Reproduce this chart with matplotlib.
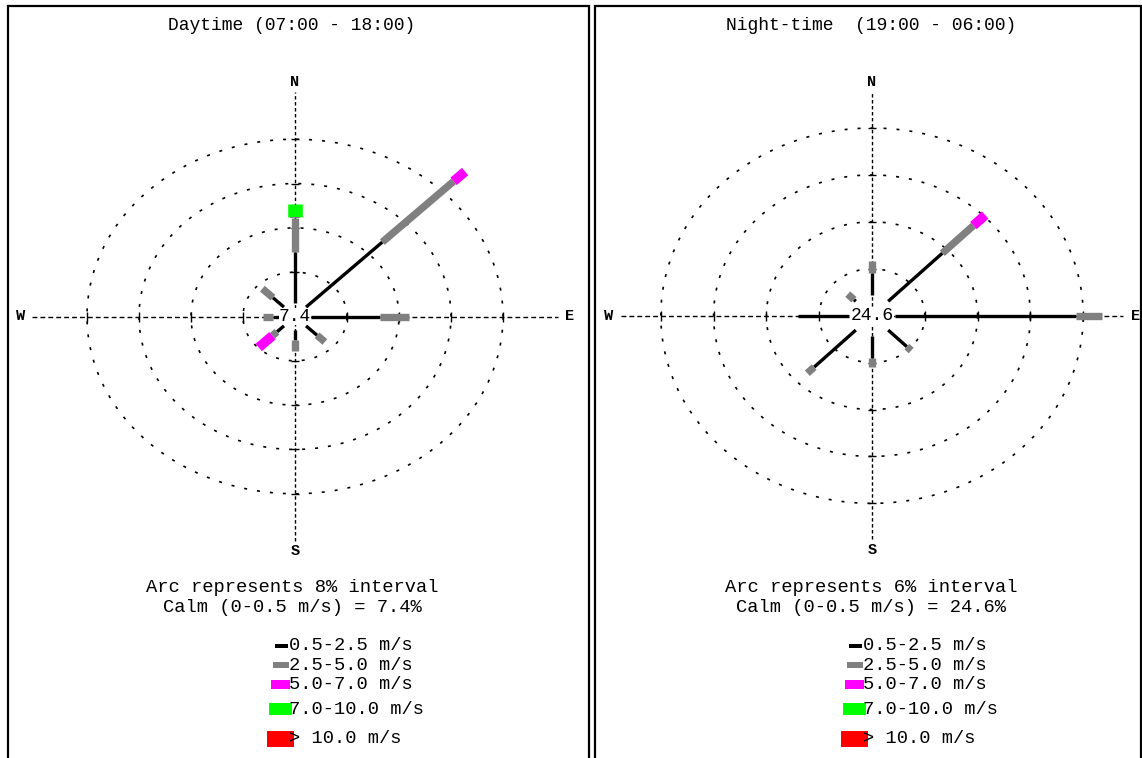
import numpy as np
import matplotlib.pyplot as plt
from matplotlib.patches import Rectangle

plt.rcParams['font.family'] = ['Liberation Mono', 'DejaVu Sans Mono']

W, H = 1142, 758

# data
directions = ['N', 'NE', 'E', 'SE', 'S', 'SW', 'W', 'NW']
compass_deg = [0, 45, 90, 135, 180, 225, 270, 315]
speed_labels = ['0.5-2.5 m/s', '2.5-5.0 m/s', '5.0-7.0 m/s', '7.0-10.0 m/s', '> 10.0 m/s']
speed_colors = ['#000000', '#808080', '#ff00ff', '#00ff00', '#ff0000']

day_title = 'Daytime (07:00 - 18:00)'
day_interval = 8
day_calm = 7.4
# frequency (%) per speed class, by direction N..NW
day_s1 = [9.3, 16.6, 10.6, 2.4, 1.8, 1.5, 1.0, 2.4]
day_s2 = [6.0, 15.5, 4.5, 1.7, 2.1, 1.0, 1.6, 2.3]
day_s3 = [0.3, 2.5, 0.0, 0.0, 0.0, 3.0, 0.0, 0.0]
day_s4 = [2.3, 0.0, 0.0, 0.0, 0.0, 0.0, 0.0, 0.0]
day_s5 = [0.0, 0.0, 0.0, 0.0, 0.0, 0.0, 0.0, 0.0]

night_title = 'Night-time  (19:00 - 06:00)'
night_interval = 6
night_calm = 24.6
night_s1 = [2.9, 8.7, 20.6, 3.0, 2.8, 6.7, 5.8, 0.3]
night_s2 = [1.5, 5.0, 2.9, 0.7, 1.2, 1.1, 0.0, 1.0]
night_s3 = [0.0, 1.9, 0.0, 0.0, 0.0, 0.0, 0.0, 0.0]
night_s4 = [0.0, 0.0, 0.0, 0.0, 0.0, 0.0, 0.0, 0.0]
night_s5 = [0.0, 0.0, 0.0, 0.0, 0.0, 0.0, 0.0, 0.0]

panels = [
    dict(title=day_title, interval=day_interval, calm=day_calm,
         freqs=[day_s1, day_s2, day_s3, day_s4, day_s5],
         cx=295, cy=316.5, sx=6.5, sy=5.54, r0=2.4, ext=40.5, lab=42.3,
         frame=(8, 589), tx=292, legx=289),
    dict(title=night_title, interval=night_interval, calm=night_calm,
         freqs=[night_s1, night_s2, night_s3, night_s4, night_s5],
         cx=872, cy=315.7, sx=8.8, sy=7.82, r0=2.6, ext=28.5, lab=29.9,
         frame=(595, 1141), tx=871, legx=863),
]

bar_lw = [2.4, 5.3, 7.0, 10.5, 13]
sw_left = [-14, -16, -18, -20, -22]
sw_right = [-1, 0, 1, 3, 5]
sw_h = [3.3, 5.5, 8.3, 12.5, 16]
leg_y = [646, 665, 684.5, 709, 738.5]
fs = 13.5

fig = plt.figure(figsize=(W / 100, H / 100), dpi=100)


def fx(x):
    return x / W


def fy(y):
    return 1 - y / H


for p in panels:
    # frame
    x0, x1 = p['frame']
    fig.patches.append(Rectangle((fx(x0), fy(770)), (x1 - x0) / W, 764 / H,
                                 transform=fig.transFigure, fill=False,
                                 ec='black', lw=1.6))
    fig.text(fx(p['tx']), fy(25), p['title'], ha='center', va='center', fontsize=13)

    hw, hh = 280, 250
    ax = fig.add_axes([fx(p['cx'] - hw), fy(p['cy'] + hh), 2 * hw / W, 2 * hh / H])
    ax.set_xlim(-hw / p['sx'], hw / p['sx'])
    ax.set_ylim(-hh / p['sy'], hh / p['sy'])
    ax.axis('off')

    ext = p['ext']
    ax.plot([0, 0], [-ext, ext], color='black', lw=1, ls=(0, (2.5, 1.8)))
    ax.plot([-ext, ext], [0, 0], color='black', lw=1, ls=(0, (3.5, 2.2)))

    t = np.linspace(0, 2 * np.pi, 500)
    rings = np.arange(1, 5) * p['interval']
    for r in rings:
        ax.plot(r * np.cos(t), r * np.sin(t), color='black', lw=1.2, ls=(0, (1.8, 6)))
    ax.plot(np.r_[rings, -rings], np.zeros(8), ls='none', marker='|', ms=7, mew=1, color='black')
    ax.plot(np.zeros(8), np.r_[rings, -rings], ls='none', marker='_', ms=6, mew=1, color='black')

    lab = p['lab']
    for name, x, y in [('N', 0, lab), ('S', 0, -lab), ('E', lab, 0), ('W', -lab, 0)]:
        ax.text(x, y, name, ha='center', va='center', fontsize=11, fontweight='bold')

    # bars
    for i, d in enumerate(compass_deg):
        th = np.deg2rad(90 - d)
        r = p['r0']
        for k in range(len(speed_labels)):
            f = p['freqs'][k][i]
            if f <= 0:
                continue
            ax.plot([r * np.cos(th), (r + f) * np.cos(th)],
                    [r * np.sin(th), (r + f) * np.sin(th)],
                    color=speed_colors[k], lw=bar_lw[k], solid_capstyle='butt', zorder=3 + k)
            r += f

    ax.text(0, 0, '%.1f' % p['calm'], ha='center', va='center', fontsize=13, zorder=10,
            bbox=dict(fc='white', ec='none', pad=0.3))

    fig.text(fx(p['tx']), fy(587), 'Arc represents %d%% interval' % p['interval'],
             ha='center', va='center', fontsize=fs)
    fig.text(fx(p['tx']), fy(607), 'Calm (0-0.5 m/s) = %.1f%%' % p['calm'],
             ha='center', va='center', fontsize=fs)

    lx = p['legx']
    for k, label in enumerate(speed_labels):
        y = leg_y[k]
        fig.patches.append(Rectangle((fx(lx + sw_left[k]), fy(y + sw_h[k] / 2)),
                                     (sw_right[k] - sw_left[k]) / W, sw_h[k] / H,
                                     transform=fig.transFigure, fc=speed_colors[k], ec='none'))
        fig.text(fx(lx), fy(y), label, ha='left', va='center', fontsize=fs, zorder=5)

fig.savefig('out.png', dpi=100)
plt.close()
